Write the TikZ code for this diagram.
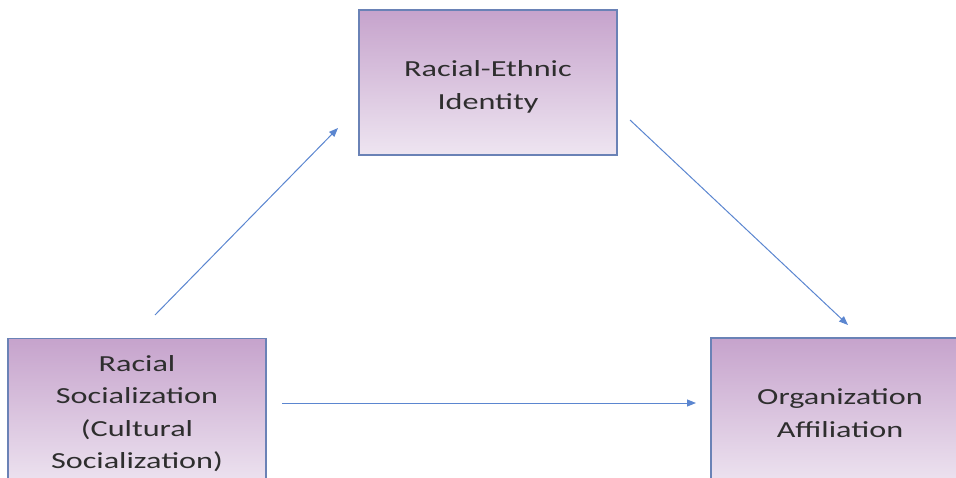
\documentclass[tikz,border=0pt]{standalone}
\usepackage{fontspec}
\setmainfont{Carlito}
\newfontfamily\widefont[FakeStretch=1.4]{Carlito}
\usetikzlibrary{arrows.meta}
\definecolor{boxtop}{HTML}{C6A3CC}
\definecolor{boxbot}{HTML}{EEE5F1}
\definecolor{boxline}{HTML}{6A82B6}
\definecolor{arrowc}{HTML}{5B86D0}
\definecolor{txt}{HTML}{2E2E2E}
\tikzset{
  varbox/.style={draw=boxline, line width=1.4pt, top color=boxtop, bottom color=boxbot,
    minimum width=258pt, minimum height=146pt, align=center, inner sep=0pt,
    font=\widefont\fontsize{23}{32.5}\selectfont, text=txt},
  link/.style={draw=arrowc, line width=1pt, -{Triangle[length=9pt,width=7pt]}}
}
\begin{document}
\begin{tikzpicture}[x=1pt,y=-1pt]
\useasboundingbox (0,0) rectangle (956,478);
\clip (0,0) rectangle (956,478);
\node[varbox, minimum height=145pt] (rei) at (488,82.5) {\raisebox{-4pt}[\height][\depth]{\setlength{\tabcolsep}{0pt}\begin{tabular}{c}Racial-Ethnic\\Identity\end{tabular}}};
\node[varbox, minimum height=150pt] (rs) at (137,413.5) {Racial\\Socialization\\(Cultural\\Socialization)};
\node[varbox, minimum height=150pt] (oa) at (840,413) {Organization\\Affiliation};
\coordinate (a1s) at (155,315);
\coordinate (a1e) at (338,128);
\coordinate (a2s) at (630,120);
\coordinate (a2e) at (848,325);
\coordinate (a3s) at (282,403);
\coordinate (a3e) at (696,403);
\draw[link] (a1s) -- (a1e);
\draw[link] (a2s) -- (a2e);
\draw[link] (a3s) -- (a3e);
\end{tikzpicture}
\end{document}
